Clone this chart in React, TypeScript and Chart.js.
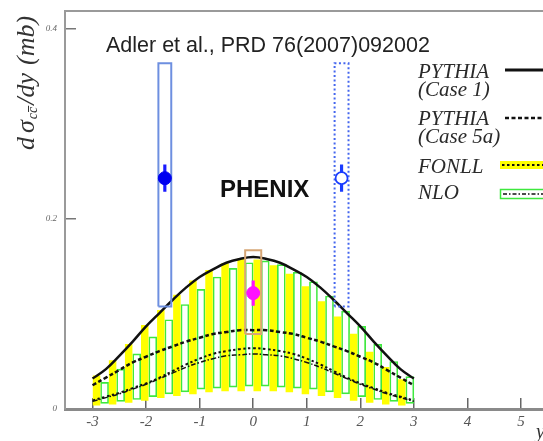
import React, { useEffect, useRef } from 'react';
import { Chart, registerables } from 'chart.js';

Chart.register(...registerables);

// Rapidity grid of the model curves
const curveX = [-3, -2.75, -2.5, -2.25, -2, -1.75, -1.5, -1.25, -1, -0.75, -0.5, -0.25, 0, 0.25, 0.5, 0.75, 1, 1.25, 1.5, 1.75, 2, 2.25, 2.5, 2.75, 3];
const pythiaCase1 = [0.032, 0.042, 0.056, 0.071, 0.087, 0.101, 0.115, 0.128, 0.139, 0.147, 0.154, 0.158, 0.16, 0.158, 0.154, 0.147, 0.139, 0.128, 0.115, 0.101, 0.087, 0.071, 0.056, 0.042, 0.032];
const pythiaCase5a = [0.025, 0.033, 0.041, 0.049, 0.055, 0.061, 0.066, 0.071, 0.075, 0.079, 0.081, 0.083, 0.083, 0.083, 0.081, 0.079, 0.075, 0.071, 0.066, 0.061, 0.055, 0.049, 0.041, 0.033, 0.025];
const fonllCentral = [0.009, 0.013, 0.017, 0.022, 0.027, 0.033, 0.04, 0.047, 0.053, 0.058, 0.061, 0.063, 0.064, 0.063, 0.061, 0.058, 0.053, 0.047, 0.04, 0.033, 0.027, 0.022, 0.017, 0.013, 0.009];
const nloCentral = [0.008, 0.012, 0.016, 0.021, 0.026, 0.032, 0.038, 0.044, 0.049, 0.053, 0.056, 0.057, 0.058, 0.057, 0.056, 0.053, 0.049, 0.044, 0.038, 0.032, 0.026, 0.021, 0.016, 0.012, 0.008];

// Uncertainty bands, binned in 0.3 units of rapidity
const binCenters = [-2.85, -2.55, -2.25, -1.95, -1.65, -1.35, -1.05, -0.75, -0.45, -0.15, 0.15, 0.45, 0.75, 1.05, 1.35, 1.65, 1.95, 2.25, 2.55, 2.85];
const nloLow = [0.006, 0.008, 0.01, 0.013, 0.016, 0.018, 0.021, 0.022, 0.023, 0.024, 0.024, 0.023, 0.022, 0.021, 0.018, 0.016, 0.013, 0.01, 0.008, 0.006];
const nloHigh = [0.028, 0.042, 0.058, 0.076, 0.094, 0.11, 0.126, 0.139, 0.148, 0.154, 0.156, 0.152, 0.144, 0.134, 0.119, 0.103, 0.087, 0.068, 0.05, 0.034];
const fonllLow = [0.004, 0.005, 0.007, 0.009, 0.012, 0.014, 0.016, 0.018, 0.019, 0.019, 0.019, 0.019, 0.018, 0.016, 0.014, 0.012, 0.009, 0.007, 0.005, 0.004];
const fonllHigh = [0.035, 0.051, 0.068, 0.088, 0.104, 0.12, 0.135, 0.146, 0.153, 0.158, 0.157, 0.151, 0.142, 0.129, 0.113, 0.097, 0.079, 0.06, 0.044, 0.031];

// PHENIX measurements: forward (filled), mid-rapidity, mirrored (open)
const pointRapidity = [-1.65, 0, 1.65];
const pointValue = [0.243, 0.122, 0.243];
const pointStat = [0.014, 0.013, 0.014];
const pointSysLow = [0.108, 0.079, 0.108];
const pointSysHigh = [0.364, 0.167, 0.364];

// Axis ticks
const xTickValues = [-3, -2, -1, 0, 1, 2, 3, 4, 5];
const yTickValues = [0, 0.2, 0.4];

const SERIF = '"Liberation Serif", "DejaVu Serif", serif';
const SANS = '"Liberation Sans", Arial, sans-serif';

const points = (xs: number[], ys: number[]) => xs.map((x, i) => ({ x, y: ys[i] }));
const band = (lo: number[], hi: number[]) => binCenters.map((x, i) => ({ x, y: [lo[i], hi[i]] }));
const sysBox = (i: number, hw: number) => {
  const c = pointRapidity[i];
  const lo = pointSysLow[i];
  const hi = pointSysHigh[i];
  return [
    { x: c - hw, y: lo },
    { x: c - hw, y: hi },
    { x: c + hw, y: hi },
    { x: c + hw, y: lo },
    { x: c - hw, y: lo },
  ];
};

// Frame top edge plus all the annotation text and the legend
const decorations = {
  id: 'decorations',
  afterDraw(chart: any) {
    const ctx = chart.ctx as CanvasRenderingContext2D;
    const area = chart.chartArea;
    ctx.save();

    // top edge of the frame
    ctx.strokeStyle = '#9a9a9a';
    ctx.lineWidth = 2;
    ctx.beginPath();
    ctx.moveTo(area.left, area.top);
    ctx.lineTo(area.right, area.top);
    ctx.stroke();

    ctx.textAlign = 'left';
    ctx.textBaseline = 'alphabetic';

    ctx.fillStyle = '#222';
    ctx.font = `21.5px ${SANS}`;
    ctx.fillText('Adler et al., PRD 76(2007)092002', 106, 52);

    ctx.fillStyle = '#111';
    ctx.font = `bold 24px ${SANS}`;
    ctx.fillText('PHENIX', 220, 197);

    // legend
    ctx.fillStyle = '#2a2a2a';
    ctx.font = `italic 21px ${SERIF}`;
    ctx.fillText('PYTHIA', 418, 78);
    ctx.fillText('(Case 1)', 418, 96);
    ctx.fillText('PYTHIA', 418, 125);
    ctx.fillText('(Case 5a)', 418, 143);
    ctx.fillText('FONLL', 418, 173);
    ctx.fillText('NLO', 418, 199);

    ctx.strokeStyle = '#111';
    ctx.lineWidth = 3;
    ctx.setLineDash([]);
    ctx.beginPath();
    ctx.moveTo(505, 70);
    ctx.lineTo(560, 70);
    ctx.stroke();

    ctx.lineWidth = 2.5;
    ctx.setLineDash([4, 2.5]);
    ctx.beginPath();
    ctx.moveTo(505, 118);
    ctx.lineTo(560, 118);
    ctx.stroke();

    ctx.setLineDash([]);
    ctx.fillStyle = '#ffff00';
    ctx.fillRect(500, 161, 60, 8);
    ctx.strokeStyle = '#111';
    ctx.lineWidth = 2;
    ctx.setLineDash([2.5, 2.5]);
    ctx.beginPath();
    ctx.moveTo(502, 165);
    ctx.lineTo(560, 165);
    ctx.stroke();

    ctx.setLineDash([]);
    ctx.strokeStyle = '#3ee83e';
    ctx.lineWidth = 1.5;
    ctx.strokeRect(500.5, 189.5, 60, 9);
    ctx.strokeStyle = '#111';
    ctx.lineWidth = 1.5;
    ctx.setLineDash([4, 2, 1.5, 2]);
    ctx.beginPath();
    ctx.moveTo(503, 194);
    ctx.lineTo(560, 194);
    ctx.stroke();
    ctx.setLineDash([]);

    // y-axis title, reading upwards
    ctx.translate(34, 150);
    ctx.rotate(-Math.PI / 2);
    ctx.fillStyle = '#333';
    let x = 0;
    ctx.font = `italic 26px ${SERIF}`;
    ctx.fillText('d', x, 0);
    x += ctx.measureText('d').width + 4;
    ctx.fillText('σ', x, 0);
    x += ctx.measureText('σ').width + 1;
    ctx.font = `italic 14px ${SERIF}`;
    const cw = ctx.measureText('c').width;
    ctx.fillText('cc', x, 3);
    ctx.strokeStyle = '#333';
    ctx.lineWidth = 1;
    ctx.beginPath();
    ctx.moveTo(x + cw + 1, -5.5);
    ctx.lineTo(x + 2 * cw + 1, -5.5);
    ctx.stroke();
    x += 2 * cw + 2;
    ctx.font = `italic 26px ${SERIF}`;
    ctx.fillText('/dy', x, 0);
    x += ctx.measureText('/dy').width + 8;
    ctx.fillText('(mb)', x, 0);
    ctx.restore();

    // x-axis title at the far right
    ctx.save();
    ctx.fillStyle = '#333';
    ctx.font = `italic 20px ${SERIF}`;
    ctx.fillText('y', 536, 438);
    ctx.restore();
  },
};

export default function App() {
  const canvasRef = useRef<HTMLCanvasElement | null>(null);

  useEffect(() => {
    const canvas = canvasRef.current;
    if (!canvas) return;

    const curve = (values: number[], dash: number[], width: number, order: number) => ({
      type: 'line',
      data: points(curveX, values),
      borderColor: '#111',
      borderWidth: width,
      borderDash: dash,
      pointRadius: 0,
      tension: 0.4,
      fill: false,
      order,
    });

    const boxLine = (i: number, hw: number, color: string, dash: number[]) => ({
      type: 'line',
      data: sysBox(i, hw),
      borderColor: color,
      borderWidth: 2,
      borderDash: dash,
      pointRadius: 0,
      tension: 0,
      fill: false,
      order: 3,
    });

    const chart = new Chart(canvas, {
      type: 'bar',
      data: {
        datasets: [
          {
            type: 'bar',
            label: 'NLO',
            data: band(nloLow, nloHigh),
            backgroundColor: 'rgba(255,255,255,0)',
            borderColor: '#3ee83e',
            borderWidth: 1,
            borderSkipped: false,
            barThickness: 'flex',
            categoryPercentage: 1,
            barPercentage: 1,
            order: 10,
          },
          {
            type: 'bar',
            label: 'FONLL',
            data: band(fonllLow, fonllHigh),
            backgroundColor: '#ffff00',
            borderWidth: 0,
            barThickness: 'flex',
            categoryPercentage: 1,
            barPercentage: 0.85,
            order: 9,
          },
          { label: 'PYTHIA (Case 1)', ...curve(pythiaCase1, [], 2.5, 5) },
          { label: 'PYTHIA (Case 5a)', ...curve(pythiaCase5a, [4, 2.5], 2.5, 5) },
          { label: 'FONLL central', ...curve(fonllCentral, [2.5, 2.5], 2, 5) },
          { label: 'NLO central', ...curve(nloCentral, [5, 2, 1.5, 2], 1.5, 5) },
          { label: 'sys forward', ...boxLine(0, 0.12, '#6d8fe0', []) },
          { label: 'sys mid', ...boxLine(1, 0.15, '#d6a676', []) },
          { label: 'sys mirrored', ...boxLine(2, 0.13, '#4466ee', [2, 2.5]) },
          {
            type: 'bar',
            label: 'stat',
            data: pointRapidity.map((x, i) => ({ x, y: [pointValue[i] - pointStat[i], pointValue[i] + pointStat[i]] })),
            backgroundColor: ['#1a1aff', '#ff10ff', '#1a3cff'],
            borderWidth: 0,
            grouped: false,
            barThickness: 2.5,
            order: 2,
          },
          {
            type: 'line',
            label: 'PHENIX',
            data: points(pointRapidity, pointValue),
            showLine: false,
            pointRadius: [6.5, 6.5, 6],
            pointBackgroundColor: ['#0000f0', '#ff10ff', '#ffffff'],
            pointBorderColor: ['#0000f0', '#ff10ff', '#1a3cff'],
            pointBorderWidth: [1, 1, 1.8],
            order: 1,
          },
        ] as any,
      },
      options: {
        animation: false,
        responsive: false,
        maintainAspectRatio: false,
        devicePixelRatio: 1,
        events: [],
        layout: { padding: { top: 11, left: 0, right: 0, bottom: 0 } },
        plugins: {
          legend: { display: false },
          tooltip: { enabled: false },
          title: { display: false },
        },
        scales: {
          x: {
            type: 'linear',
            min: -3.514,
            max: 6.33,
            offset: false,
            afterBuildTicks: (s: any) => {
              s.ticks = xTickValues.map((value) => ({ value }));
            },
            afterFit: (s: any) => {
              s.height = 32;
              s.paddingLeft = 0;
              s.paddingRight = 0;
            },
            grid: {
              display: true,
              drawOnChartArea: false,
              drawTicks: true,
              tickLength: -11,
              color: '#666',
              lineWidth: 1.5,
              offset: false,
            },
            border: { display: true, color: '#8a8a8a', width: 3 },
            ticks: {
              padding: 15,
              color: '#555',
              autoSkip: false,
              maxRotation: 0,
              font: { family: SERIF, style: 'italic', size: 15 },
            },
          },
          y: {
            type: 'linear',
            min: 0,
            max: 0.419,
            afterBuildTicks: (s: any) => {
              s.ticks = yTickValues.map((value) => ({ value }));
            },
            afterFit: (s: any) => {
              s.width = 65;
              s.paddingTop = 0;
              s.paddingBottom = 0;
            },
            grid: {
              display: true,
              drawOnChartArea: false,
              drawTicks: true,
              tickLength: -11,
              color: '#777',
              lineWidth: 1.5,
            },
            border: { display: true, color: '#9a9a9a', width: 2 },
            ticks: {
              padding: 19,
              color: '#666',
              font: { family: SERIF, style: 'italic', size: 9 },
            },
          },
        },
      } as any,
      plugins: [decorations],
    });

    return () => chart.destroy();
  }, []);

  return (
    <div
      style={{
        position: 'fixed',
        left: 0,
        top: 0,
        width: 543,
        height: 441,
        overflow: 'hidden',
        background: '#fff',
      }}
    >
      <canvas
        ref={canvasRef}
        width={600}
        height={441}
        style={{ display: 'block', width: 600, height: 441 }}
      />
    </div>
  );
}
